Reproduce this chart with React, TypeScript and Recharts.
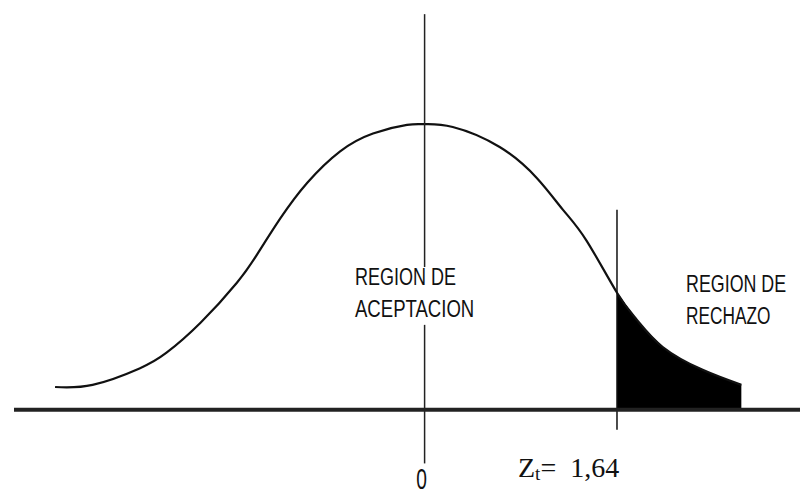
import { ComposedChart, Line, Area, XAxis, YAxis, ReferenceLine } from "recharts";

// normal curve (z units, height above baseline)
const curveZ = [-3.15, -2.83, -2.43, -2.2, -1.91, -1.6, -1.43, -1.23, -1.0, -0.72, -0.44, -0.15, 0, 0.24, 0.64, 0.96, 1.18, 1.38, 1.64, 1.81, 2.03, 2.37, 2.7];
const curveY = [0.032, 0.035, 0.058, 0.08, 0.122, 0.178, 0.217, 0.268, 0.318, 0.362, 0.387, 0.399, 0.4, 0.396, 0.368, 0.324, 0.28, 0.237, 0.164, 0.126, 0.088, 0.056, 0.035];

const zCrit = 1.64;
const axisEnds = [-3.5, 3.2];

const curve = curveZ.map((z, i) => ({ z, y: curveY[i] }));
const tail = curve.filter((d) => d.z >= zCrit);

const sans = "'Liberation Sans', Arial, sans-serif";
const serif = "'Liberation Serif', 'Times New Roman', serif";

// condensed label: regular sans squeezed sideways
function Narrow({ x, y, sx, children }: { x: number; y: number; sx: number; children: string }) {
  return (
    <g transform={`translate(${x},${y}) scale(${sx},1)`}>
      <text x={0} y={0} fontFamily={sans} fontSize={23.5} fill="#111">
        {children}
      </text>
    </g>
  );
}

function App() {
  return (
    <div style={{ position: "absolute", left: 0, top: 0, background: "#fff" }}>
      <ComposedChart
        width={802}
        height={496}
        margin={{ top: 17, right: 2, bottom: 29, left: 14 }}
      >
        <XAxis dataKey="z" type="number" domain={axisEnds} allowDataOverflow hide />
        <YAxis type="number" domain={[-0.08, 0.55]} allowDataOverflow hide />

        <Area
          data={tail}
          dataKey="y"
          type="monotone"
          baseValue={0}
          fill="#000"
          fillOpacity={1}
          stroke="#000"
          strokeWidth={1}
          isAnimationActive={false}
        />
        <Line
          data={curve}
          dataKey="y"
          type="natural"
          stroke="#111"
          strokeWidth={2.2}
          dot={false}
          isAnimationActive={false}
        />

        {/* z = 0 line, broken where the label sits */}
        <ReferenceLine
          segment={[{ x: 0, y: 0.554 }, { x: 0, y: 0.2 }]}
          stroke="#222"
          strokeWidth={1.5}
          ifOverflow="visible"
        />
        <ReferenceLine
          segment={[{ x: 0, y: 0.119 }, { x: 0, y: -0.075 }]}
          stroke="#222"
          strokeWidth={1.5}
          ifOverflow="visible"
        />
        <ReferenceLine
          segment={[{ x: zCrit, y: 0.28 }, { x: zCrit, y: -0.028 }]}
          stroke="#111"
          strokeWidth={1.5}
          ifOverflow="visible"
        />
        <ReferenceLine
          segment={[{ x: axisEnds[0], y: 0 }, { x: axisEnds[1], y: 0 }]}
          stroke="#222"
          strokeWidth={4}
          ifOverflow="visible"
        />

        <Narrow x={355} y={285} sx={0.766}>REGION DE</Narrow>
        <Narrow x={355} y={317} sx={0.79}>ACEPTACION</Narrow>
        <Narrow x={686} y={292} sx={0.76}>REGION DE</Narrow>
        <Narrow x={686} y={324} sx={0.735}>RECHAZO</Narrow>

        <g transform="translate(421.5,489) scale(0.8,1.2)">
          <text x={0} y={0} textAnchor="middle" fontFamily={sans} fontSize={24} fill="#111">
            0
          </text>
        </g>
        <text x={518} y={477} fontFamily={serif} fontSize={28} fill="#111" style={{ whiteSpace: "pre" }}>
          Z
          <tspan fontSize={19} dy={3}>t</tspan>
          <tspan dy={-3}>{"=  1,64"}</tspan>
        </text>
      </ComposedChart>
    </div>
  );
}

export default App;
